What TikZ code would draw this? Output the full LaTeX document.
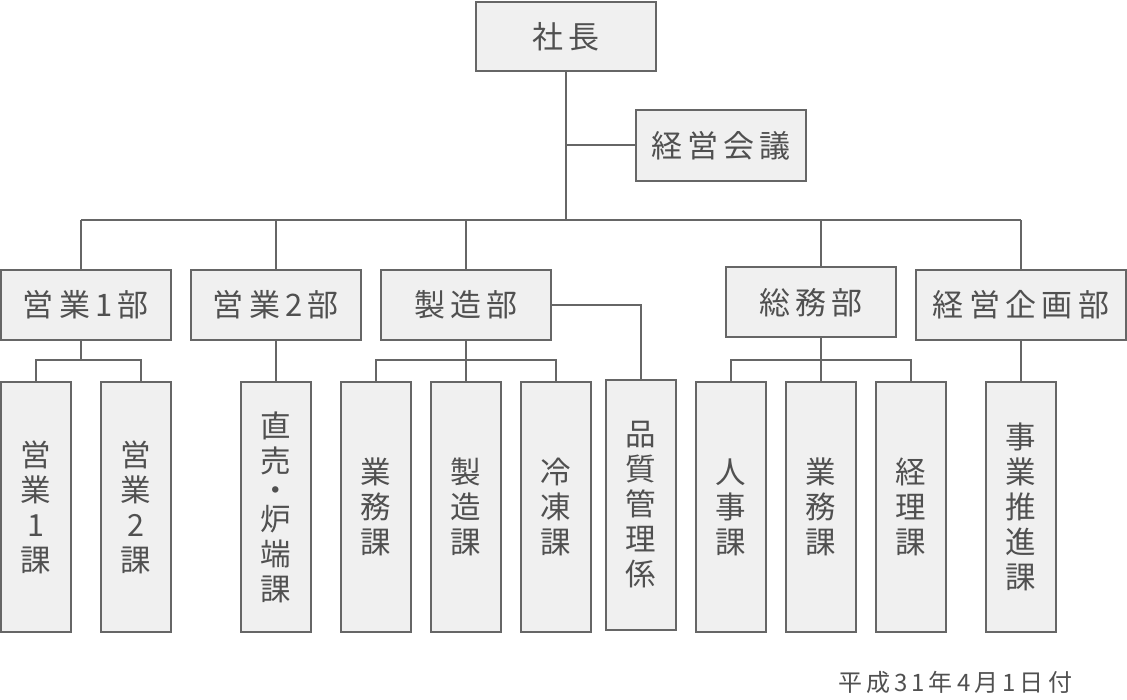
\documentclass[tikz,border=0pt]{standalone}
\usepackage{fontspec}
\setmainfont{Noto Sans CJK JP}
\newfontfamily\jpwide[LetterSpace=17]{Noto Sans CJK JP}
\usetikzlibrary{positioning}
\definecolor{linegray}{HTML}{666666}
\definecolor{boxgray}{HTML}{F0F0F0}
\definecolor{textgray}{HTML}{505050}
\tikzset{
        box/.style={draw=linegray, fill=boxgray, line width=2pt, inner sep=0pt, outer sep=0pt, text=textgray},
        hbox/.style={box, minimum width=170pt, minimum height=70pt, font=\jpwide\fontsize{31}{36}\selectfont}, % horizontal boxes
        vbox/.style={box, minimum width=70pt, minimum height=250pt, align=center, font=\fontsize{30.5}{35}\selectfont}, % vertical text
        link/.style={draw=linegray, line width=2pt},
}
\begin{document}
\begin{tikzpicture}[x=1pt,y=-1pt]
\useasboundingbox (0,0) rectangle (1127,700);
\node[hbox, minimum width=180pt, minimum height=69pt] (shacho) at (566,36.5) {社長};
\node[hbox, minimum height=71pt] (kaigi) at (721,145.5) {経営会議};
\coordinate (bus) at (566,220);
\coordinate (sub) at (566,360);

\foreach \n/\x/\t in {eigyo1/86/営業1部, eigyo2/276/営業2部, seizo/466/製造部}
  \node[hbox] (\n) at (\x,305) {\t};
\node[hbox] (soumu) at (811,302.5) {総務部};
\node[hbox, minimum width=210pt] (kikaku) at (1021,305) {経営企画部};

\foreach \n/\x/\t in {ka11/36/営\\業\\1\\課, ka12/136/営\\業\\2\\課, chokubai/276/直\\売\\[-6pt]・\\[-6pt]炉\\端\\課,
  gyomu1/376/業\\務\\課, seizoka/466/製\\造\\課, reito/556/冷\\凍\\課,
  jinji/731/人\\事\\課, gyomu2/821/業\\務\\課, keiri/911/経\\理\\課, jigyo/1021/事\\業\\推\\進\\課}
  \node[vbox] (\n) at (\x,507) {\t};
\node[vbox] (hinshitsu) at (641,505) {品\\質\\管\\理\\係};

% top
\draw[link] (shacho.south) -- (shacho.south |- bus);
\draw[link] (kaigi.west) -- (kaigi.west -| shacho.south);
\coordinate (e1top) at ([xshift=-5pt]eigyo1.north);
\coordinate (e1bot) at ([xshift=-5pt]eigyo1.south);
\draw[link] (e1top |- bus) -- (kikaku.north |- bus);
\draw[link] (e1top) -- (e1top |- bus);
\foreach \d in {eigyo2,seizo,kikaku}
  \draw[link] (\d.north) -- (\d.north |- bus);
\draw[link] (gyomu2.north |- soumu.north) -- (gyomu2.north |- bus);

% sections
\coordinate (k12top) at ([xshift=5pt]ka12.north);
\draw[link] (e1bot) -- (e1bot |- sub);
\draw[link] (ka11.north) |- (sub -| k12top) -- (k12top);
\draw[link] (eigyo2.south) -- (chokubai.north);
\draw[link] (seizo.south) -- (seizoka.north);
\draw[link] (gyomu1.north) |- (sub -| reito.north) -- (reito.north);
\draw[link] (seizo.east) -| (hinshitsu.north);
\draw[link] (gyomu2.north |- soumu.south) -- (gyomu2.north);
\draw[link] (jinji.north) |- (sub -| keiri.north) -- (keiri.north);
\draw[link] (kikaku.south) -- (jigyo.north);

\node[text=textgray, font=\jpwide\fontsize{24}{28}\selectfont] (date) at (955,682) {平成31年4月1日付};
\end{tikzpicture}
\end{document}
